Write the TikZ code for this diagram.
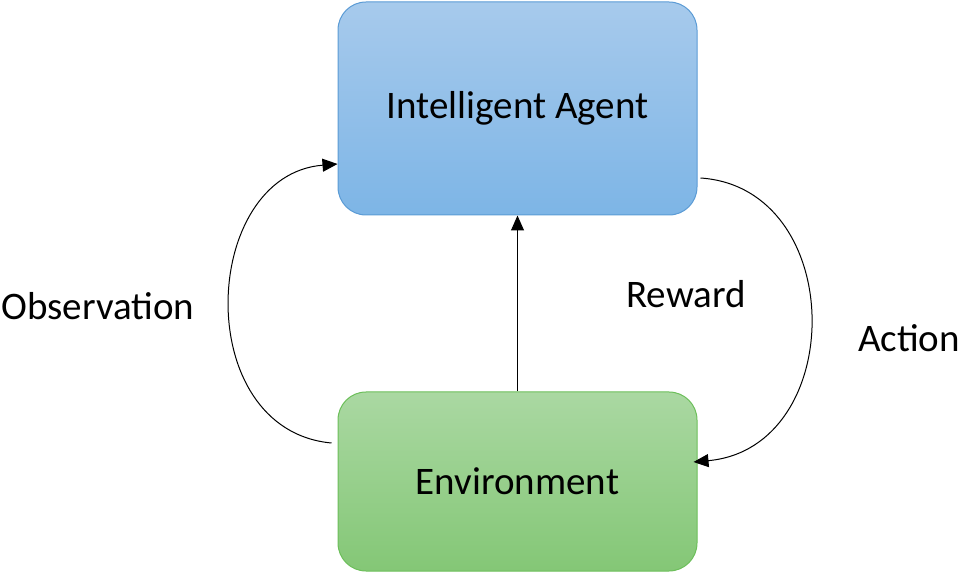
\documentclass[tikz,border=0pt]{standalone}
\usepackage{fontspec}
\setmainfont{Carlito}
\usetikzlibrary{arrows.meta}
\definecolor{agenttop}{HTML}{A7CAEC}
\definecolor{agentbot}{HTML}{7DB5E6}
\definecolor{agentline}{HTML}{5B9BD5}
\definecolor{envtop}{HTML}{AAD8A2}
\definecolor{envbot}{HTML}{84C776}
\definecolor{envline}{HTML}{6CBF5A}
\begin{document}
\begin{tikzpicture}[x=1pt,y=1pt,
  box/.style={rounded corners=28pt,minimum width=359pt,line width=1pt,font=\fontsize{39}{47}\selectfont},
  lbl/.style={font=\fontsize{39}{47}\selectfont},
  arr/.style={-{Triangle[length=15pt,width=13pt]},line width=1pt}]
\useasboundingbox (0,0) rectangle (960,573);
\node[box,draw=agentline,top color=agenttop,bottom color=agentbot,minimum height=213pt] (agent) at (517.5,464.5) {Intelligent Agent};
\node[box,draw=envline,top color=envtop,bottom color=envbot,minimum height=179pt] (env) at (517.5,91.5) {Environment};
\coordinate (obsstart) at ([xshift=-6pt,yshift=38.5pt]env.west);
\coordinate (obsend) at ([yshift=-55.5pt]agent.west);
\coordinate (actstart) at ([xshift=3pt,yshift=-69.5pt]agent.east);
\coordinate (actend) at ([xshift=-4pt,yshift=19.5pt]env.east);
\draw[arr] (obsstart) .. controls (190,143) and (200,398) .. (obsend);
\draw[arr] (actstart) .. controls (848,385) and (848,125) .. (actend);
\draw[arr] (env.north) -- (agent.south);
\node[lbl] (obs) at (98,267) {Observation};
\node[lbl] (rew) at (686,279) {Reward};
\node[lbl] (act) at (909,235) {Action};
\end{tikzpicture}
\end{document}
